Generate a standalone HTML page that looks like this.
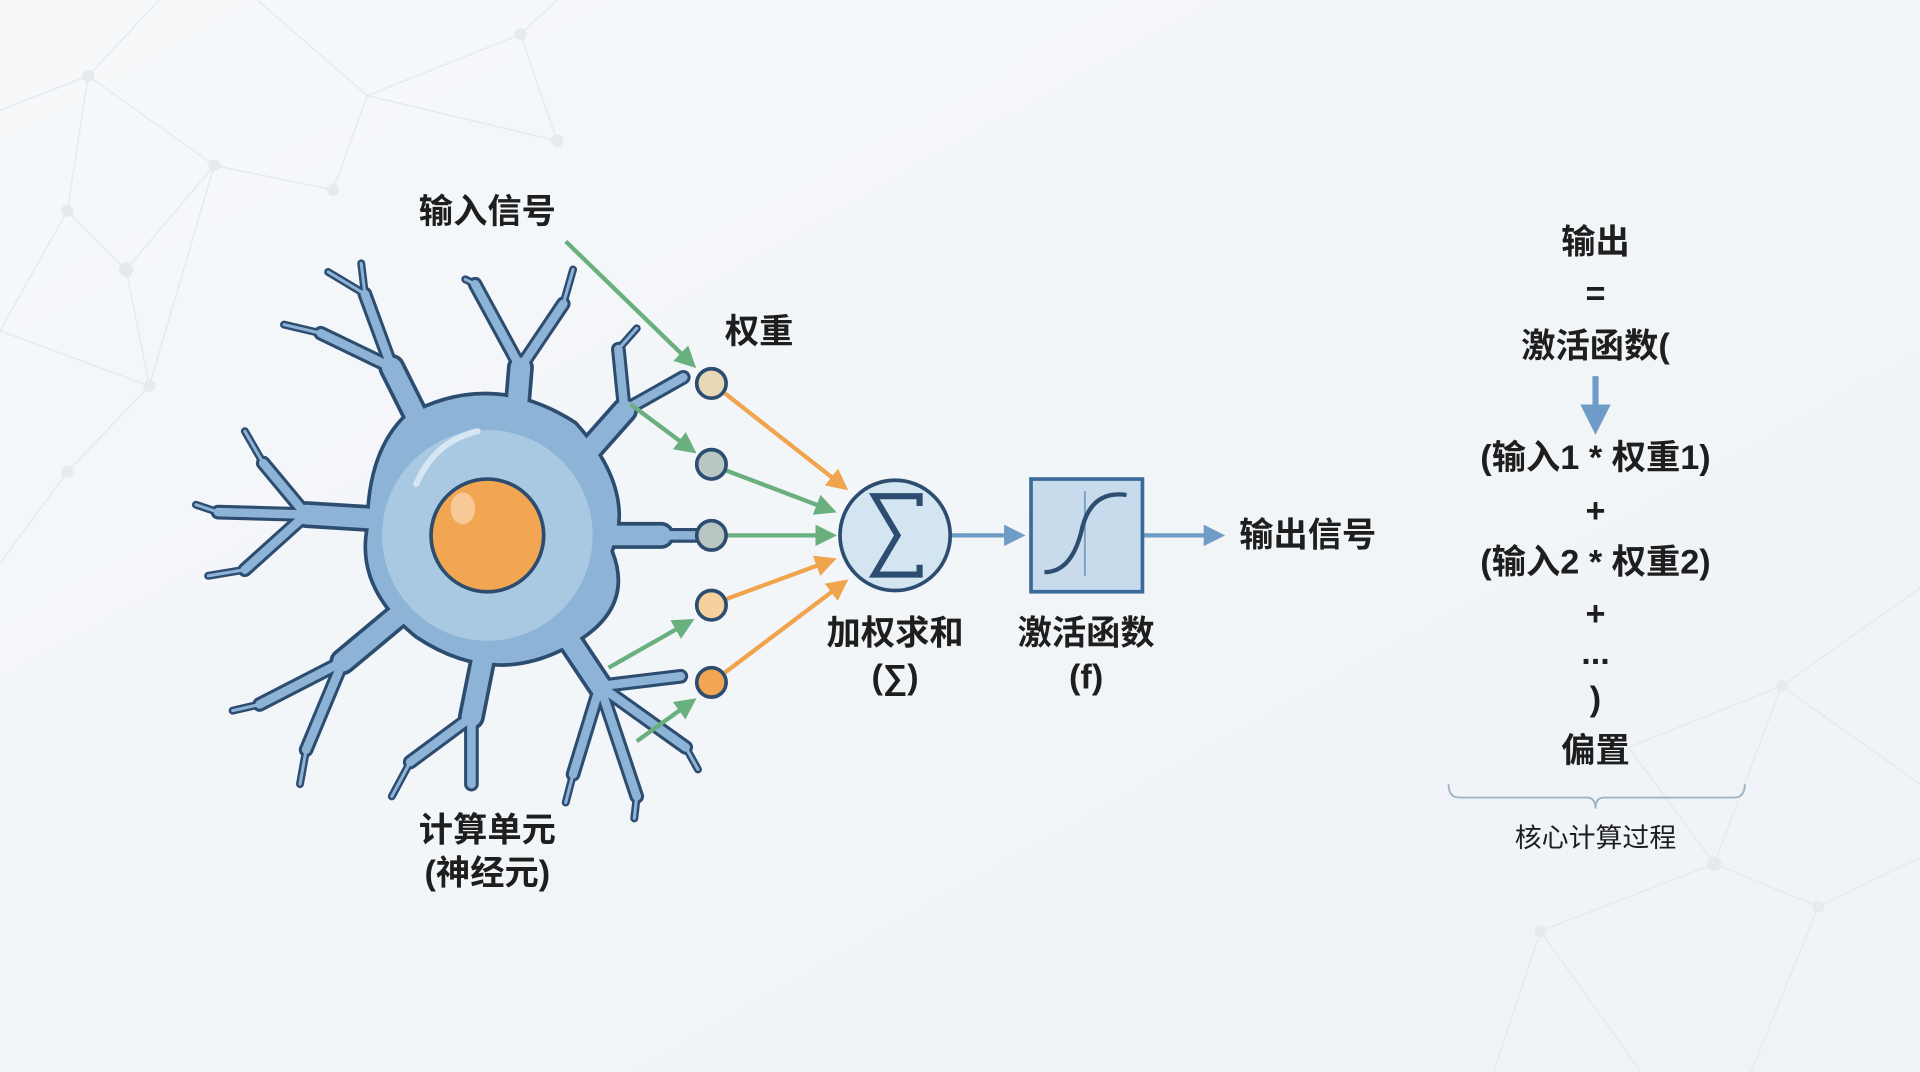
<!DOCTYPE html>
<html><head><meta charset="utf-8"><style>
html,body{margin:0;padding:0;width:1920px;height:1072px;overflow:hidden;background:#f3f6f9}
svg{display:block}
text{font-family:"Liberation Sans","Noto Sans CJK SC",sans-serif;fill:#1e1e1e;text-anchor:middle;dominant-baseline:central}
.b{font-weight:bold;font-size:28px}
</style></head><body>
<svg width="1920" height="1072" viewBox="0 0 1568 875" preserveAspectRatio="none">
<defs>
<linearGradient id="bg" x1="0" y1="0" x2="1" y2="1"><stop offset="0" stop-color="#f6f8fa"/><stop offset="1" stop-color="#eef3f7"/></linearGradient>
<marker id="ag" viewBox="0 0 10 10" refX="8" refY="5" markerWidth="5" markerHeight="5" orient="auto"><path d="M0,0L10,5L0,10z" fill="#6aaf7e"/></marker>
<marker id="ao" viewBox="0 0 10 10" refX="8" refY="5" markerWidth="5" markerHeight="5" orient="auto"><path d="M0,0L10,5L0,10z" fill="#f0a44e"/></marker>
<marker id="ab" viewBox="0 0 10 10" refX="8" refY="5" markerWidth="5" markerHeight="5" orient="auto"><path d="M0,0L10,5L0,10z" fill="#6f9cc6"/></marker>
</defs>
<rect width="1568" height="875" fill="url(#bg)"/>
<g stroke="#e6eaee" stroke-width="1.2" fill="none">
<path d="M0 90L72 62L175 135L272 155L300 78L455 115L425 28L300 78M72 62L55 172L103 220L175 135M55 172L0 270L122 315L103 220M122 315L55 385L0 460M175 135L122 315M210 0L300 78M72 62L130 0M425 28L455 0"/>
<path d="M1568 480L1455 560L1400 705L1258 760L1220 875M1455 560L1568 640M1400 705L1485 740L1568 700M1485 740L1430 875M1258 760L1340 875M1400 705L1330 610L1455 560"/>
</g>
<g fill="#e6eaee"><circle cx="72" cy="62" r="5"/><circle cx="175" cy="135" r="5"/><circle cx="55" cy="172" r="5"/><circle cx="103" cy="220" r="6"/><circle cx="272" cy="155" r="5"/><circle cx="122" cy="315" r="5"/><circle cx="455" cy="115" r="5"/><circle cx="425" cy="28" r="5"/><circle cx="55" cy="385" r="5"/><circle cx="1455" cy="560" r="5"/><circle cx="1400" cy="705" r="6"/><circle cx="1258" cy="760" r="5"/><circle cx="1485" cy="740" r="5"/></g>

<g fill="none" stroke-linecap="round" stroke-linejoin="round" stroke="#2d4d70">
<path stroke-width="22" d="M360 380L320 300M420 360L425 300M470 380L510 335M470 437L540 437M330 425L250 420M340 490L280 540M400 510L385 585M450 500L490 560"/>
<path stroke-width="12" d="M320 300L298 240M320 300L262 272M425 300L388 232M425 300L460 248M510 335L558 308M510 335L505 285M540 437L575 437M250 420L178 418M250 420L215 378M250 420L200 465M280 540L212 575M280 540L250 612M385 585L385 640M385 585L335 622M490 560L520 650M490 560L556 552M490 560L560 610M490 560L468 632"/>
<path stroke-width="6.5" d="M298 240L295 215M262 272L232 265M298 240L268 222M388 232L380 228M460 248L468 220M505 285L520 268M178 418L160 412M215 378L200 352M200 465L170 470M212 575L190 580M250 612L245 640M335 622L320 650M520 650L518 668M468 632L462 655M560 610L570 628"/>
</g>
<path d="M330 340Q400 300 470 345Q520 400 500 450Q520 500 460 530Q400 560 340 520Q290 480 300 430Q300 370 330 340z" fill="#8db3d6" stroke="#2d4d70" stroke-width="3"/>
<g fill="none" stroke-linecap="round" stroke-linejoin="round" stroke="#8db3d6">
<path stroke-width="16" d="M360 380L320 300M420 360L425 300M470 380L510 335M470 437L540 437M330 425L250 420M340 490L280 540M400 510L385 585M450 500L490 560"/>
<path stroke-width="7" d="M320 300L298 240M320 300L262 272M425 300L388 232M425 300L460 248M510 335L558 308M510 335L505 285M540 437L575 437M250 420L178 418M250 420L215 378M250 420L200 465M280 540L212 575M280 540L250 612M385 585L385 640M385 585L335 622M490 560L520 650M490 560L556 552M490 560L560 610M490 560L468 632"/>
<path stroke-width="2.5" d="M298 240L295 215M262 272L232 265M298 240L268 222M388 232L380 228M460 248L468 220M505 285L520 268M178 418L160 412M215 378L200 352M200 465L170 470M212 575L190 580M250 612L245 640M335 622L320 650M520 650L518 668M468 632L462 655M560 610L570 628"/>
</g>
<circle cx="398" cy="437" r="86" fill="#a9c9e3"/>
<path d="M340 395Q355 360 390 352" stroke="#d6e6f3" stroke-width="5" fill="none" stroke-linecap="round"/>
<circle cx="398" cy="437" r="46" fill="#f2a651" stroke="#2d4d70" stroke-width="3"/>
<ellipse cx="378" cy="415" rx="10" ry="13" fill="#f7c996"/>

<g stroke-width="3.5" fill="none">
<line x1="462" y1="197" x2="566" y2="298" stroke="#6aaf7e" marker-end="url(#ag)"/>
<line x1="515" y1="330" x2="566" y2="368" stroke="#6aaf7e" marker-end="url(#ag)"/>
<line x1="497" y1="545" x2="564" y2="507" stroke="#6aaf7e" marker-end="url(#ag)"/>
<line x1="520" y1="605" x2="566" y2="572" stroke="#6aaf7e" marker-end="url(#ag)"/>
<line x1="592" y1="321" x2="690" y2="398" stroke="#f0a44e" marker-end="url(#ao)"/>
<line x1="593" y1="384" x2="680" y2="417" stroke="#6aaf7e" marker-end="url(#ag)"/>
<line x1="594" y1="437" x2="680" y2="437" stroke="#6aaf7e" marker-end="url(#ag)"/>
<line x1="593" y1="489" x2="680" y2="457" stroke="#f0a44e" marker-end="url(#ao)"/>
<line x1="592" y1="549" x2="690" y2="475" stroke="#f0a44e" marker-end="url(#ao)"/>
<line x1="777" y1="437" x2="834" y2="437" stroke="#6f9cc6" marker-end="url(#ab)"/>
<line x1="934" y1="437" x2="997" y2="437" stroke="#6f9cc6" marker-end="url(#ab)"/>
<line x1="1303" y1="307" x2="1303" y2="350" stroke="#6f9cc6" stroke-width="5" marker-end="url(#ab)"/>
</g>
<g stroke="#2d4d70" stroke-width="3">
<circle cx="581" cy="313" r="12" fill="#e9d8b6"/>
<circle cx="581" cy="379" r="12" fill="#b9c7c4"/>
<circle cx="581" cy="437" r="12" fill="#b8c5c3"/>
<circle cx="581" cy="494" r="12" fill="#f5d19e"/>
<circle cx="581" cy="557" r="12" fill="#f2a651"/>
</g>
<circle cx="731" cy="437" r="45" fill="#d4e5f2" stroke="#2d4d70" stroke-width="3"/>
<path d="M751 413L751 405L714 405L733 437L714 469L751 469L751 461" fill="none" stroke="#2d4d70" stroke-width="5" stroke-linejoin="miter"/>
<rect x="842" y="391" width="91" height="92" fill="#c7dbed" stroke="#3a6a9a" stroke-width="3"/>
<line x1="886" y1="401" x2="886" y2="470" stroke="#7a9cc0" stroke-width="1.5"/>
<path d="M853 467Q876 467 884 430Q892 400 920 404" fill="none" stroke="#2d4d70" stroke-width="3.5"/>

<text class="b" x="398" y="173">输入信号</text>
<text class="b" x="620" y="271">权重</text>
<text class="b" x="731" y="517">加权求和</text>
<text class="b" x="731" y="553">(∑)</text>
<text class="b" x="887" y="517">激活函数</text>
<text class="b" x="887" y="553">(f)</text>
<text class="b" x="1068" y="437">输出信号</text>
<text class="b" x="398" y="678">计算单元</text>
<text class="b" x="398" y="713">(神经元)</text>
<text class="b" x="1303" y="198">输出</text>
<text class="b" x="1303" y="240">=</text>
<text class="b" x="1303" y="283">激活函数(</text>
<text class="b" x="1303" y="374">(输入1 * 权重1)</text>
<text class="b" x="1303" y="417">+</text>
<text class="b" x="1303" y="459">(输入2 * 权重2)</text>
<text class="b" x="1303" y="501">+</text>
<text class="b" x="1303" y="533">...</text>
<text class="b" x="1303" y="571">)</text>
<text class="b" x="1303" y="613">偏置</text>
<path d="M1183 640Q1183 651 1192 651L1296 651Q1303 651 1303 660Q1303 651 1310 651L1416 651Q1425 651 1425 640" fill="none" stroke="#9fb4c6" stroke-width="1.5"/>
<text x="1303" y="684" font-size="22">核心计算过程</text>
</svg>
</body></html>
